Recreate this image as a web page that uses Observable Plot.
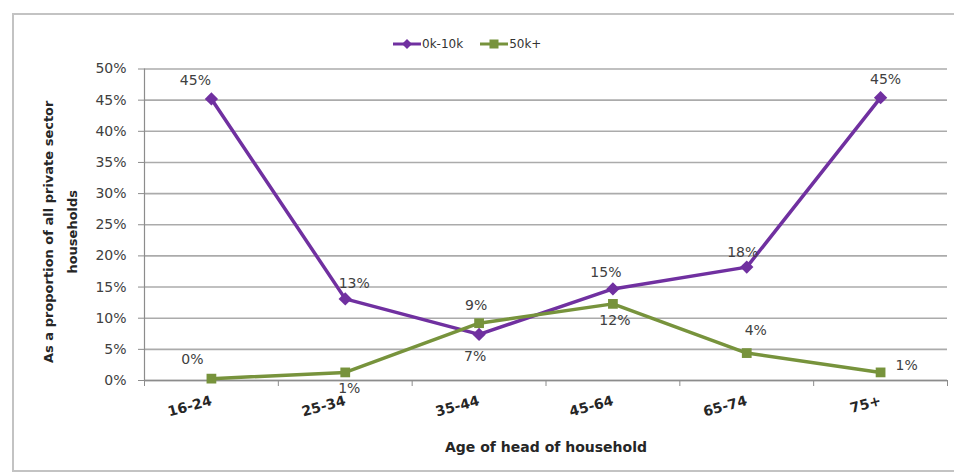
<!DOCTYPE html>
<html><head><meta charset="utf-8">
<script src="https://cdn.jsdelivr.net/npm/d3@7"></script>
<script src="https://cdn.jsdelivr.net/npm/@observablehq/plot@0.6"></script>
<style>
html,body{margin:0;padding:0;background:#fff;overflow:hidden;width:954px;height:474px;}
#wrap{position:relative;width:954px;height:474px;font-family:"DejaVu Sans",sans-serif;}
#frame{position:absolute;left:12px;top:13px;width:960px;height:459px;border:2px solid #c3c3c3;box-sizing:border-box;}
#legend{position:absolute;left:393px;top:35px;height:18px;display:flex;align-items:center;font-size:12px;color:#333;}
#legend .item{display:flex;align-items:center;margin-right:17px;}
#legend svg{margin-right:1px;}
#chart{position:absolute;left:0;top:60px;}
</style></head><body>
<div id="wrap"><div id="frame"></div><div id="legend"></div><div id="chart"></div></div>
<script>
const ages = ["16-24", "25-34", "35-44", "45-64", "65-74", "75+"];
const seriesNames = ["0k-10k", "50k+"];
const low = [45.2, 13.1, 7.4, 14.7, 18.2, 45.4];
const high = [0.3, 1.3, 9.2, 12.3, 4.4, 1.3];
const yTicks = [0, 5, 10, 15, 20, 25, 30, 35, 40, 45, 50];
const xTitle = "Age of head of household";
const yTitle = "As a proportion of all private sector\nhouseholds";

const colors = ["#7030A0", "#77933C"];
const symbols = ["diamond2", "square"];
const FONT = "'DejaVu Sans', sans-serif";

const rows = [];
[low, high].forEach((vals, s) => vals.forEach((v, i) => rows.push({i, age: ages[i], value: v, series: seriesNames[s], s})));

// label offsets (layout only)
const offsets = [
  [[-16,-18],[9,-15],[-4,22],[-7,-16],[-4,-15],[5,-18]],
  [[-19,-19],[4,16],[-3,-18],[2,17],[9,-23],[26,-7]]
];

// legend
const legend = document.getElementById("legend");
seriesNames.forEach((name, s) => {
  const item = document.createElement("div");
  item.className = "item";
  const sym = s === 0
    ? `<polygon points="14,1 19,6 14,11 9,6" fill="${colors[s]}"/>`
    : `<rect x="9.5" y="1.5" width="9" height="9" fill="${colors[s]}"/>`;
  item.innerHTML = `<svg width="28" height="12"><line x1="0" y1="6" x2="28" y2="6" stroke="${colors[s]}" stroke-width="3"/>${sym}</svg><span>${name}</span>`;
  legend.appendChild(item);
});

const labelMarks = [];
rows.forEach(r => {
  const [dx, dy] = offsets[r.s][r.i];
  labelMarks.push(Plot.text([r], {x: "i", y: "value", text: d => Math.round(d.value) + "%", dx, dy,
    fontSize: 14, fill: "#404040", textAnchor: "middle", lineAnchor: "middle"}));
});

const chart = Plot.plot({
  width: 954,
  height: 414,
  marginTop: 8.5,
  marginBottom: 94,
  marginLeft: 144,
  marginRight: 7,
  style: {fontFamily: FONT, background: "transparent", overflow: "visible"},
  x: {domain: [-0.5, ages.length - 0.5]},
  y: {domain: [0, 50]},
  color: {domain: seriesNames, range: colors},
  marks: [
    Plot.gridY(yTicks, {stroke: "#ababab", strokeWidth: 1.6, strokeOpacity: 1}),
    Plot.ruleX([-0.5], {y1: 0, y2: 50, stroke: "#8c8c8c", strokeWidth: 1.2}),
    Plot.ruleY([0], {stroke: "#8c8c8c", strokeWidth: 1.6}),
    Plot.axisY(yTicks, {tickFormat: d => d + "%", tickSize: 6, tickPadding: 12, fontSize: 14, fill: "#404040", stroke: "#8c8c8c", label: null}),
    Plot.axisX(d3.range(ages.length + 1).map(k => k - 0.5), {tickFormat: () => "", tickSize: 6, stroke: "#8c8c8c", label: null}),
    Plot.axisX(d3.range(ages.length), {tickFormat: i => ages[i], tickSize: 0, tickPadding: 20, tickRotate: -15, fontSize: 14, fontWeight: "bold", fill: "#262626", label: null}),
    Plot.line(rows, {x: "i", y: "value", z: "series", stroke: "series", strokeWidth: 3.5}),
    Plot.dot(rows.filter(r => r.s === 0), {x: "i", y: "value", symbol: symbols[0], r: 6, fill: colors[0], stroke: "none"}),
    Plot.dot(rows.filter(r => r.s === 1), {x: "i", y: "value", symbol: symbols[1], r: 5.5, fill: colors[1], stroke: "none"}),
    ...labelMarks,
    Plot.text([xTitle], {frameAnchor: "bottom", dy: 67, fontSize: 14, fontWeight: "bold", fill: "#262626", lineAnchor: "middle"}),
    Plot.text([yTitle], {frameAnchor: "left", dx: -87, dy: 7, rotate: -90, fontSize: 13, fontWeight: "bold", fill: "#262626", textAnchor: "middle", lineAnchor: "middle", lineHeight: 1.8})
  ]
});
document.getElementById("chart").appendChild(chart);
</script>
</body></html>
